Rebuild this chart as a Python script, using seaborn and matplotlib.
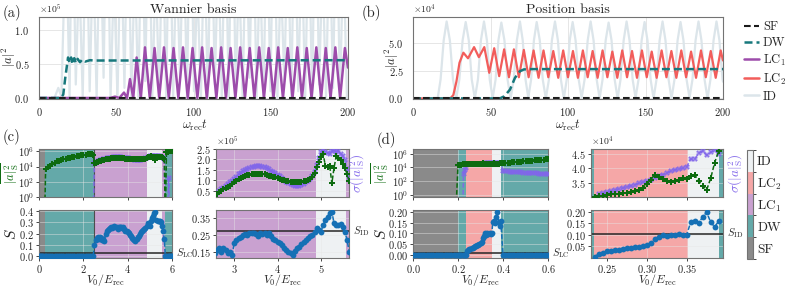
"""
Quench dynamics of |a|^2 in the Wannier and position basis (a, b) and the
phase diagnostics (mean / spread of |a|^2_S and entropy S) for two scans (c, d).
"""

import numpy as np
import matplotlib
matplotlib.use("Agg")
import matplotlib.pyplot as plt
import seaborn as sns
from matplotlib.colors import ListedColormap, BoundaryNorm
from matplotlib.cm import ScalarMappable
from matplotlib.lines import Line2D
from matplotlib.ticker import NullLocator

# ---------------------------------------------------------------------------
# Colours
# ---------------------------------------------------------------------------
COL = {"SF": "#1a1a1a", "DW": "#17787c", "LC1": "#9d4cab", "LC2": "#f25d5b", "ID": "#dce5ea"}
PHASE_FILL = {"SF": "#8a8a8a", "DW": "#64a9a9", "LC1": "#c9a1d0", "LC2": "#f5a7a7", "ID": "#eef1f3"}
GREEN = "#0d6b10"
PURPLE = "#8166ea"
BLUE = "#1570b5"
ZERO = 1e-3  # stands in for "0" on the log axes

# ---------------------------------------------------------------------------
# (a) Wannier basis, |a|^2 in units of 1e5
# ---------------------------------------------------------------------------
A_SF_T = [0, 200]
A_SF = [0, 0]

A_DW_T = [0, 14.0, 15.7, 17.0, 18.8, 19.8, 20.8, 21.8, 22.8, 23.8, 25.0, 26.5, 28.0, 30.0, 33.0, 36.0, 200]
A_DW = [0, 0, 0.05, 0.30, 0.60, 0.52, 0.60, 0.50, 0.59, 0.52, 0.58, 0.53, 0.57, 0.54, 0.56, 0.555, 0.56]

A_LC1_T_HI = [49.2, 55.0, 58.9, 63.2, 68.6, 74.8, 80.9, 87.1, 93.2, 99.4, 105.6, 111.7, 117.9,
              124.0, 130.2, 136.4, 142.5, 148.7, 154.8, 161.0, 167.2, 173.3, 179.5, 185.6, 191.8, 198.0]
A_LC1_HI = [0.02, 0.08, 0.28, 0.60, 0.75, 0.74, 0.75, 0.74, 0.75, 0.74, 0.75, 0.74, 0.75,
            0.74, 0.75, 0.74, 0.75, 0.74, 0.75, 0.74, 0.75, 0.74, 0.75, 0.74, 0.75, 0.74]
A_LC1_T_LO = [0, 46.0, 52.0, 57.0, 61.0, 65.9, 71.7, 77.8, 84.0, 90.2, 96.3, 102.5, 108.6, 114.8,
              121.0, 127.1, 133.3, 139.4, 145.6, 151.8, 157.9, 164.1, 170.2, 176.4, 182.6, 188.7, 194.9, 200.0]
A_LC1_LO = [0.0] * 27 + [0.45]

A_ID_T_HI = [12.5, 17.5, 21.5, 26.0, 30.5, 35.0, 39.5, 44.0, 48.5, 53.0, 57.5, 62.0, 66.5,
             71.0, 75.5, 80.0, 84.5, 89.0, 93.5, 98.0, 102.5, 107.0, 111.5, 116.0, 120.5, 125.0,
             129.5, 134.0, 138.5, 143.0, 147.5, 152.0, 156.5, 161.0, 165.5, 170.0, 174.5, 179.0,
             183.5, 188.0, 192.5, 197.0]
A_ID_HI = [0.15,
           2.6, 3.4, 1.9, 3.0, 2.2, 2.8, 3.5, 1.8, 2.5, 3.1,
           2.0, 2.9, 3.3, 1.9, 2.6, 3.2, 2.1, 2.7, 3.4, 1.7,
           2.4, 3.0, 2.2, 2.9, 3.5, 1.9, 2.6, 3.1, 2.0, 2.8,
           3.3, 1.8, 2.5, 3.0, 2.3, 2.7, 3.4, 2.0, 2.6, 3.1,
           2.2]
A_ID_T_LO = [0, 10.0, 14.5, 19.8, 23.8, 28.3, 32.8, 37.3, 41.8, 46.3, 50.8, 55.3, 59.8, 64.3,
             68.8, 73.3, 77.8, 82.3, 86.8, 91.3, 95.8, 100.3, 104.8, 109.3, 113.8, 118.3, 122.8,
             127.3, 131.8, 136.3, 140.8, 145.3, 149.8, 154.3, 158.8, 163.3, 167.8, 172.3, 176.8,
             181.3, 185.8, 190.3, 194.8, 199.3]
A_ID_LO = [0.0, 0.0, 0.02,
           0.0, 0.2, 0.0, 0.1, 0.0, 0.3, 0.0, 0.0, 0.15, 0.0,
           0.0, 0.25, 0.0, 0.1, 0.0, 0.0, 0.3, 0.0, 0.1, 0.0,
           0.0, 0.2, 0.0, 0.0, 0.15, 0.0, 0.3, 0.0, 0.0, 0.1,
           0.0, 0.25, 0.0, 0.1, 0.0, 0.0, 0.2, 0.0, 0.15, 0.0,
           0.0]

# ---------------------------------------------------------------------------
# (b) Position basis, |a|^2 in units of 1e4
# ---------------------------------------------------------------------------
B_SF_T = [0, 200]
B_SF = [0, 0]

B_DW_T = [0, 56.0, 59.0, 62.6, 65.8, 69.0, 71.5, 75.0, 200]
B_DW = [0, 0, 0.2, 0.8, 1.85, 2.44, 2.60, 2.63, 2.63]

B_LC2_T = [0, 24.0, 26.0, 28.0, 30.0, 32.5, 35.5, 39.4, 42.5, 46.0, 49.2, 52.4, 55.6, 58.8, 61.9,
           65.1, 68.3, 71.5, 74.6, 77.8, 81.0, 84.2, 87.3, 90.5, 93.7, 96.9, 100.0, 103.2, 106.4,
           109.6, 112.7, 115.9, 119.1, 122.3, 125.4, 128.6, 131.8, 135.0, 138.1, 141.3, 144.5,
           147.7, 150.8, 154.0, 157.2, 160.4, 163.5, 166.7, 169.9, 173.1, 176.2, 179.4, 182.6,
           185.8, 188.9, 192.1, 195.3, 198.5, 200.0]
B_LC2 = [0, 0, 0.3, 1.5, 3.2, 4.1, 3.6, 4.6, 3.7, 4.6, 2.3, 4.5, 2.0, 4.4, 1.9,
         4.4, 1.9, 4.35, 1.9, 4.3, 1.85, 4.3, 1.9, 4.25, 1.85, 4.3, 1.9, 4.25, 1.85,
         4.3, 1.9, 4.25, 1.85, 4.3, 1.9, 4.2, 1.85, 4.3, 1.9, 4.25, 1.85,
         4.3, 1.9, 4.2, 1.85, 4.3, 1.9, 4.25, 1.85, 4.3, 1.9, 4.2, 1.85,
         4.3, 1.9, 4.25, 1.85, 4.3, 3.4]

B_ID_T = [0, 15.9,
          17.8, 19.8, 21.7, 23.8, 25.8, 27.9,
          29.9, 32.0, 34.0, 36.0, 37.9, 39.9,
          41.9, 43.8, 45.8, 47.7, 49.5, 51.4,
          53.3, 55.1, 57.0, 59.0, 61.0, 63.0,
          65.0, 67.0, 69.0, 70.8, 72.6, 74.4,
          76.2, 78.0, 79.8, 81.8, 83.7, 85.7,
          87.7, 89.6, 91.6, 93.5, 95.4, 97.3,
          99.2, 101.1, 103.0, 104.9, 106.9, 108.8,
          110.7, 112.7, 114.6, 116.5, 118.5, 120.4,
          122.3, 124.3, 126.2, 128.1, 130.1, 132.0,
          133.9, 135.9, 137.8, 139.7, 141.7, 143.6,
          145.5, 147.5, 149.4, 151.3, 153.3, 155.2,
          157.1, 159.1, 161.0, 162.9, 164.9, 166.8,
          168.7, 170.7, 172.6, 174.5, 176.5, 178.4,
          180.3, 182.3, 184.2, 186.1, 188.1, 190.0,
          191.9, 193.9, 195.8, 197.7, 199.7, 200.0]
B_ID = [0, 0,
        1.7, 5.2, 6.9, 5.2, 1.7, 0.0,
        1.7, 5.2, 6.85, 5.2, 1.7, 0.0,
        1.7, 5.2, 6.9, 5.2, 1.7, 0.05,
        1.7, 5.2, 6.8, 5.2, 1.7, 0.0,
        1.7, 5.2, 6.9, 5.2, 1.7, 0.05,
        1.7, 5.2, 6.85, 5.2, 1.7, 0.0,
        1.7, 5.2, 6.9, 5.2, 1.7, 0.0,
        1.7, 5.2, 6.85, 5.2, 1.7, 0.05,
        1.7, 5.2, 6.9, 5.2, 1.7, 0.0,
        1.7, 5.2, 6.8, 5.2, 1.7, 0.0,
        1.7, 5.2, 6.9, 5.2, 1.7, 0.05,
        1.7, 5.2, 6.85, 5.2, 1.7, 0.0,
        1.7, 5.2, 6.9, 5.2, 1.7, 0.0,
        1.7, 5.2, 6.85, 5.2, 1.7, 0.05,
        1.7, 5.2, 6.9, 5.2, 1.7, 0.0,
        1.7, 5.2, 6.9, 5.2, 1.7, 1.5]

# ---------------------------------------------------------------------------
# (c) scan in the Wannier basis
# ---------------------------------------------------------------------------
C_PHASE_EDGES = [0.0, 0.27, 2.5, 4.88, 5.57, 5.68, 6.0]
C_PHASES = ["SF", "DW", "LC1", "ID", "LC1", "DW"]
C_S_LC = 0.025
C_S_ID = 0.276

C_V0_SF = [0.0, 0.05, 0.1, 0.15, 0.2, 0.25]
C_V0_DW1 = [0.3, 0.4, 0.5, 0.6, 0.7, 0.8, 0.9, 1.0, 1.1, 1.2, 1.3, 1.4, 1.5, 1.6, 1.7, 1.8,
            1.9, 2.0, 2.1, 2.2, 2.3, 2.4, 2.45]
C_MEAN_DW1 = [5.0e3, 8.9e3, 1.4e4, 2.2e4, 3.3e4, 4.8e4, 6.0e4, 7.6e4, 9.1e4, 1.12e5, 1.32e5,
              1.58e5, 1.82e5, 2.1e5, 2.5e5, 2.75e5, 3.0e5, 3.3e5, 3.6e5, 4.0e5, 4.6e5, 5.0e5, 3.5e5]

C_V0_LC = np.round(np.arange(2.5, 5.651, 0.05), 2)  # sampling grid 2.50 ... 5.65
C_MEAN_LC = [0.28, 0.31, 0.36, 0.43, 0.50, 0.57, 0.63, 0.68, 0.75, 0.82,
             0.90, 0.98, 1.06, 1.12, 1.17, 1.21, 1.24, 1.27, 1.29, 1.30,
             1.31, 1.31, 1.30, 1.29, 1.28, 1.26, 1.23, 1.20, 1.17, 1.14,
             1.11, 1.07, 1.03, 1.00, 0.97, 0.95, 0.93, 0.92, 0.91, 0.91,
             0.92, 0.93, 0.95, 0.97, 1.00, 1.06, 1.15, 1.35, 1.65, 1.90,
             2.10, 2.25, 1.70, 1.62, 1.70, 0.85, 1.60, 2.15, 2.05, 1.95,
             1.80, 1.60, 1.30, 0.95]  # x 1e5
C_SIG_LC = [0.30, 0.34, 0.40, 0.48, 0.56, 0.65, 0.73, 0.81, 0.90, 0.99,
            1.08, 1.18, 1.28, 1.36, 1.44, 1.51, 1.56, 1.60, 1.63, 1.66,
            1.68, 1.69, 1.68, 1.66, 1.63, 1.58, 1.52, 1.46, 1.40, 1.34,
            1.27, 1.19, 1.10, 1.02, 0.94, 0.87, 0.80, 0.76, 0.73, 0.73,
            0.75, 0.79, 0.84, 0.90, 0.97, 1.07, 1.20, 1.40, 1.75, 2.05,
            2.35, 2.45, 2.38, 2.30, 2.28, 2.40, 2.45, 2.35, 2.42, 2.25,
            2.15, 1.95, 1.55, 1.05]  # x 1e5
C_S_LC_VALS = [0.10, 0.14, 0.16, 0.17, 0.15, 0.17, 0.16, 0.14, 0.15, 0.13,
               0.20, 0.22, 0.23, 0.24, 0.25, 0.255, 0.25, 0.26, 0.265, 0.26,
               0.255, 0.245, 0.26, 0.255, 0.26, 0.25, 0.26, 0.245, 0.225, 0.22,
               0.21, 0.205, 0.19, 0.175, 0.16, 0.15, 0.14, 0.13, 0.155, 0.17,
               0.18, 0.195, 0.21, 0.22, 0.235, 0.245, 0.25, 0.27, 0.29, 0.28,
               0.27, 0.31, 0.34, 0.36, 0.385, 0.39, 0.32, 0.31, 0.31, 0.315,
               0.30, 0.27, 0.22, 0.15]

C_V0_DW2 = [5.7, 5.75, 5.8, 5.85, 5.9, 5.95, 6.0]
C_MEAN_DW2 = [ZERO, 8.0e5, 9.0e5, 1.0e6, 1.0e6, 1.05e6, 1.1e6]
C_SIG_DW2 = [ZERO, ZERO, ZERO, 3.0e2, ZERO, ZERO, ZERO]

# ---------------------------------------------------------------------------
# (d) scan in the position basis
# ---------------------------------------------------------------------------
D_PHASE_EDGES = [0.0, 0.2, 0.234, 0.352, 0.391, 0.6]
D_PHASES = ["SF", "DW", "LC2", "ID", "DW"]
D_S_LC = 0.008
D_S_ID = 0.105

D_V0_SF = np.round(np.arange(0.0, 0.191, 0.01), 2)
D_V0_DW1 = [0.2, 0.205, 0.21, 0.215, 0.22, 0.225, 0.23]
D_MEAN_DW1 = [2.5e4, 2.55e4, 2.6e4, 2.65e4, 2.7e4, 2.8e4, 2.9e4]
D_SIG_DW1 = [ZERO, ZERO, ZERO, ZERO, ZERO, 1.2e3, 4.0e3]

D_V0_LC = np.round(np.arange(0.235, 0.3901, 0.005), 3)  # sampling grid 0.235 ... 0.390
D_MEAN_LC = [3.00, 3.02, 3.05, 3.07, 3.09, 3.10, 3.12, 3.13, 3.14, 3.16,
             3.20, 3.25, 3.32, 3.45, 3.60, 3.78, 3.70, 3.62, 3.56, 3.52,
             3.55, 3.60, 3.66, 3.62, 3.72, 3.78, 3.55, 3.40, 3.25, 3.65,
             4.20, 4.60]  # x 1e4
D_SIG_LC = [0.80, 3.10, 3.13, 3.17, 3.20, 3.24, 3.28, 3.31, 3.35, 3.39,
            3.43, 3.47, 3.51, 3.55, 3.60, 3.66, 3.72, 3.78, 3.84, 3.90,
            3.95, 3.97, 4.00, 4.05, 4.32, 4.32, 4.52, 4.60, 4.45, 4.55,
            4.62, 4.48]  # x 1e4
D_S_LC_VALS = [0.0, 0.015, 0.02, 0.025, 0.027, 0.03, 0.032, 0.036, 0.04, 0.042,
               0.044, 0.046, 0.05, 0.055, 0.062, 0.08, 0.09, 0.10, 0.095, 0.10,
               0.098, 0.104, 0.098, 0.10, 0.155, 0.16, 0.15, 0.18, 0.20, 0.155,
               0.135, 0.16]

D_V0_DW2 = np.round(np.arange(0.40, 0.601, 0.01), 2)
D_MEAN_DW2 = [4.0e4, 4.3e4, 4.7e4, 5.0e4, 5.4e4, 5.8e4, 6.2e4, 6.6e4, 7.0e4, 7.5e4, 8.0e4,
              8.6e4, 9.2e4, 9.8e4, 1.05e5, 1.12e5, 1.2e5, 1.3e5, 1.4e5, 1.5e5, 1.6e5]
D_SIG_DW2 = [3.2e3, 2.9e3, 2.6e3, 2.4e3, 2.3e3, 2.2e3, 2.1e3, 2.0e3, 1.9e3, 1.8e3, 1.7e3,
             1.6e3, 1.5e3, 1.45e3, 1.4e3, 1.3e3, 1.25e3, 1.2e3, 1.15e3, 1.1e3, 1.05e3]

PHASE_ORDER = ["SF", "DW", "LC1", "LC2", "ID"]
PHASE_LABELS = ["SF", "DW", r"LC$_1$", r"LC$_2$", "ID"]

# ---------------------------------------------------------------------------
# Style
# ---------------------------------------------------------------------------
sns.set_style("whitegrid")
plt.rcParams.update({
    "font.family": "serif",
    "font.serif": ["cmr10", "DejaVu Serif"],
    "mathtext.fontset": "cm",
    "axes.formatter.use_mathtext": True,
    "axes.edgecolor": "0.45",
    "axes.linewidth": 0.8,
    "grid.color": "0.9",
    "grid.linewidth": 0.7,
    "font.size": 7.5,
    "xtick.labelsize": 7.5,
    "ytick.labelsize": 7.5,
})

W, H = 793, 289
fig = plt.figure(figsize=(W / 100, H / 100), dpi=100)


def add_ax(x0, y0, x1, y1):
    """Axes from pixel box (left, top, right, bottom)."""
    return fig.add_axes([x0 / W, 1 - y1 / H, (x1 - x0) / W, (y1 - y0) / H])


def fig_label(x, y, text, rot=0, **kw):
    """Text centred on a pixel position of the figure."""
    fig.text(x / W, 1 - y / H, text, rotation=rot, ha="center", va="center", **kw)


def merge(t_hi, v_hi, t_lo, v_lo):
    t = np.concatenate([t_hi, t_lo])
    v = np.concatenate([v_hi, v_lo])
    order = np.argsort(t, kind="stable")
    return t[order], v[order]


def line(ax, t, v, scale, color, ls, lw):
    sns.lineplot(x=np.asarray(t, float), y=np.asarray(v, float) * scale, ax=ax,
                 color=color, linestyle=ls, linewidth=lw, estimator=None, sort=False)


DASH = (0, (3.2, 1.6))

# ---------------------------------------------------------------------------
# (a) and (b)
# ---------------------------------------------------------------------------
ax_a = add_ax(39, 17, 348, 99)
t_id, v_id = merge(A_ID_T_HI, A_ID_HI, A_ID_T_LO, A_ID_LO)
line(ax_a, t_id, v_id, 1e5, COL["ID"], "-", 1.6)
t_lc, v_lc = merge(A_LC1_T_HI, A_LC1_HI, A_LC1_T_LO, A_LC1_LO)
line(ax_a, t_lc, v_lc, 1e5, COL["LC1"], "-", 1.8)
line(ax_a, A_DW_T, A_DW, 1e5, COL["DW"], DASH, 1.8)
line(ax_a, A_SF_T, A_SF, 1e5, COL["SF"], DASH, 1.5)
ax_a.set_ylim(-0.015e5, 1.2e5)
ax_a.set_yticks([0, 0.5e5, 1.0e5])
ax_a.set_title("Wannier basis", fontsize=10, pad=3)

ax_b = add_ax(413, 17, 723, 99)
line(ax_b, B_ID_T, B_ID, 1e4, COL["ID"], "-", 1.6)
line(ax_b, B_LC2_T, B_LC2, 1e4, COL["LC2"], "-", 1.6)
line(ax_b, B_DW_T, B_DW, 1e4, COL["DW"], DASH, 1.8)
line(ax_b, B_SF_T, B_SF, 1e4, COL["SF"], DASH, 1.5)
ax_b.set_ylim(-0.05e4, 7.3e4)
ax_b.set_yticks([0, 2.5e4, 5.0e4])
ax_b.set_title("Position basis", fontsize=10, pad=3)

for ax in (ax_a, ax_b):
    ax.set_xlim(0, 200)
    ax.set_xticks([0, 50, 100, 150, 200])
    ax.tick_params(axis="x", pad=1.5)
    ax.ticklabel_format(axis="y", style="sci", scilimits=(0, 0))
    ax.yaxis.get_offset_text().set_fontsize(7)
    ax.set_xlabel("")
    ax.set_ylabel("")

for x in (195, 568):
    fig_label(x, 125, r"$\omega_{\rm rec}t$", fontsize=9)
fig_label(9, 57, r"$|a|^2$", rot=90, fontsize=9)
fig_label(392, 58, r"$|a|^2$", rot=90, fontsize=9)

handles = [Line2D([], [], color=COL["SF"], ls=DASH, lw=1.5),
           Line2D([], [], color=COL["DW"], ls=DASH, lw=1.8),
           Line2D([], [], color=COL["LC1"], ls="-", lw=1.8),
           Line2D([], [], color=COL["LC2"], ls="-", lw=1.8),
           Line2D([], [], color=COL["ID"], ls="-", lw=1.8)]
fig.legend(handles, PHASE_LABELS, loc="upper left", bbox_to_anchor=(739 / W, 1 - 16 / H),
           frameon=False, fontsize=9, handlelength=1.2, handletextpad=0.3, labelspacing=0.3,
           borderaxespad=0)

# ---------------------------------------------------------------------------
# (c) and (d)
# ---------------------------------------------------------------------------


def shade(ax, edges, phases):
    for lo, hi, ph in zip(edges[:-1], edges[1:], phases):
        ax.axvspan(lo, hi, color=PHASE_FILL[ph], lw=0, zorder=0)
    ax.grid(alpha=0.45)


def series(ax, x, y, color, marker, ms, alpha=1.0):
    ax.plot(x, y, ls=(0, (3, 1.5)), lw=1.1, color=color, marker=marker, ms=ms,
            mew=0, alpha=alpha, zorder=3)


def scan_block(x0, x1, xr0, xr1, edges, phases, v0_all, s_all, v0_ms, mean_all, sig_all,
               v0_lc, mean_lc, sig_lc, s_lc, scale, s_line_l, s_line_r, lims):
    axs = {}
    axs["lt"] = add_ax(x0, 149, x1, 197)
    axs["lb"] = add_ax(x0, 210, x1, 258)
    axs["rt"] = add_ax(xr0, 149, xr1, 197)
    axs["rb"] = add_ax(xr0, 210, xr1, 258)
    for ax in axs.values():
        shade(ax, edges, phases)
        ax.tick_params(length=2.5, width=0.6, bottom=True, left=True, pad=1.2)

    # left: full scan
    ax = axs["lt"]
    series(ax, v0_ms, sig_all, PURPLE, "X", 4.2, 0.9)
    series(ax, v0_ms, mean_all, GREEN, "P", 4.2)
    ax.set_yscale("log")
    ax.set_ylim(*lims["lt"])
    ax.set_yticks([1, 1e2, 1e4, 1e6])
    ax.yaxis.set_minor_locator(NullLocator())

    ax = axs["lb"]
    ax.axhline(s_line_l, color="0.15", lw=1.1, zorder=2)
    series(ax, v0_all, s_all, BLUE, "o", 4.2)
    ax.set_ylim(*lims["lb"])
    ax.text(1.03, s_line_l, r"$S_{\rm LC}$", transform=ax.get_yaxis_transform(),
            ha="left", va="center", fontsize=7.5)

    # right: zoom on the crystalline / ID window
    ax = axs["rt"]
    series(ax, v0_lc, np.asarray(sig_lc) * scale, PURPLE, "X", 4.2, 0.9)
    series(ax, v0_lc, np.asarray(mean_lc) * scale, GREEN, "P", 4.2)
    ax.set_ylim(*lims["rt"])
    ax.set_yticks(lims["rt_ticks"])
    ax.ticklabel_format(axis="y", style="sci", scilimits=(0, 0))
    ax.yaxis.get_offset_text().set_fontsize(7)

    ax = axs["rb"]
    ax.axhline(s_line_r, color="0.15", lw=1.1, zorder=2)
    series(ax, v0_lc, s_lc, BLUE, "o", 4.2)
    ax.set_ylim(*lims["rb"])
    ax.set_yticks(lims["rb_ticks"])
    ax.text(1.03, s_line_r, r"$S_{\rm ID}$", transform=ax.get_yaxis_transform(),
            ha="left", va="center", fontsize=7.5)

    for key in ("lt", "lb"):
        axs[key].set_xlim(lims["xl"])
        axs[key].set_xticks(lims["xl_ticks"])
    for key in ("rt", "rb"):
        axs[key].set_xlim(lims["xr"])
        axs[key].set_xticks(lims["xr_ticks"])
    for key in ("lt", "rt"):
        axs[key].tick_params(labelbottom=False)

    # axis titles placed by pixel, as in the reference
    fig_label(lims["ylab_x"], 173, r"$\overline{|a|^2_{\rm S}}$", rot=90, color=GREEN, fontsize=9)
    fig_label(lims["ylab_x"] + 1, 234, r"$S$", rot=90, fontsize=11)
    fig_label(lims["sig_x"], 173, r"$\sigma(|a|^2_{\rm S})$", rot=90, color=PURPLE, fontsize=9.5)
    fig_label((x0 + x1) / 2, 280.5, r"$V_0/E_{\rm rec}$", fontsize=8.5)
    fig_label((xr0 + xr1) / 2, 280.5, r"$V_0/E_{\rm rec}$", fontsize=8.5)
    return axs


# (c)
c_v0_all = np.concatenate([C_V0_SF, C_V0_DW1, C_V0_LC, C_V0_DW2])
c_s_all = np.concatenate([np.zeros(len(C_V0_SF) + len(C_V0_DW1)), C_S_LC_VALS,
                          np.zeros(len(C_V0_DW2))])
c_v0_ms = np.concatenate([C_V0_SF[-1:], C_V0_DW1, C_V0_LC, C_V0_DW2])
c_mean = np.concatenate([[ZERO], C_MEAN_DW1, np.asarray(C_MEAN_LC) * 1e5, C_MEAN_DW2])
c_sig = np.concatenate([[ZERO], np.full(len(C_V0_DW1), ZERO), np.asarray(C_SIG_LC) * 1e5, C_SIG_DW2])
axs_c = scan_block(39, 172, 216, 349, C_PHASE_EDGES, C_PHASES, c_v0_all, c_s_all, c_v0_ms,
                   c_mean, c_sig, C_V0_LC, C_MEAN_LC, C_SIG_LC, C_S_LC_VALS, 1e5, C_S_LC, C_S_ID,
                   {"lt": (1, 2.1e6), "lb": (-0.018, 0.41), "rt": (0.2e5, 2.45e5),
                    "rt_ticks": [0.5e5, 1.0e5, 1.5e5, 2.0e5, 2.5e5],
                    "rb": (0.112, 0.40), "rb_ticks": [0.15, 0.25, 0.35],
                    "xl": (0, 6), "xl_ticks": [0, 2, 4, 6],
                    "xr": (2.58, 5.645), "xr_ticks": [3, 4, 5],
                    "ylab_x": 10, "sig_x": 358})
axs_c["lb"].set_yticks([0, 0.1, 0.2, 0.3, 0.4])
for key in ("lt", "lb"):
    axs_c[key].axvline(C_PHASE_EDGES[2], color="0.3", lw=0.8, zorder=1.5)

# (d)
d_v0_all = np.concatenate([D_V0_SF, D_V0_DW1, D_V0_LC, D_V0_DW2])
d_s_all = np.concatenate([np.zeros(len(D_V0_SF) + len(D_V0_DW1)), D_S_LC_VALS,
                          np.zeros(len(D_V0_DW2))])
d_v0_ms = np.concatenate([D_V0_SF[-1:], D_V0_DW1, D_V0_LC, D_V0_DW2])
d_mean = np.concatenate([[ZERO], D_MEAN_DW1, np.asarray(D_MEAN_LC) * 1e4, D_MEAN_DW2])
d_sig = np.concatenate([[ZERO], D_SIG_DW1, np.asarray(D_SIG_LC) * 1e4, D_SIG_DW2])
axs_d = scan_block(413, 548, 591, 723, D_PHASE_EDGES, D_PHASES, d_v0_all, d_s_all, d_v0_ms,
                   d_mean, d_sig, D_V0_LC, D_MEAN_LC, D_SIG_LC, D_S_LC_VALS, 1e4, D_S_LC, D_S_ID,
                   {"lt": (0.47, 5e6), "lb": (-0.016, 0.211), "rt": (3.0e4, 4.67e4),
                    "rt_ticks": [3.5e4, 4.0e4, 4.5e4],
                    "rb": (-0.004, 0.21), "rb_ticks": [0.05, 0.10, 0.15, 0.20],
                    "xl": (0, 0.6), "xl_ticks": [0.0, 0.2, 0.4, 0.6],
                    "xr": (0.2304, 0.3954), "xr_ticks": [0.25, 0.30, 0.35],
                    "ylab_x": 380, "sig_x": 736})
axs_d["lb"].set_yticks([0, 0.05, 0.1, 0.15, 0.2])

# phase colour key
ax_cb = add_ax(747, 150, 753, 259)
cmap = ListedColormap([PHASE_FILL[p] for p in PHASE_ORDER])
norm = BoundaryNorm(np.arange(len(PHASE_ORDER) + 1), cmap.N)
cb = fig.colorbar(ScalarMappable(norm=norm, cmap=cmap), cax=ax_cb,
                  ticks=np.arange(len(PHASE_ORDER)) + 0.5)
cb.set_ticklabels(PHASE_LABELS)
cb.ax.tick_params(length=0, labelsize=9.5, pad=3)
cb.outline.set_edgecolor("0.45")
cb.outline.set_linewidth(0.8)

# panel letters
for label, x, y in [("(a)", 12, 13), ("(b)", 371, 13), ("(c)", 12, 137), ("(d)", 386, 140)]:
    fig_label(x, y, label, fontsize=10.5)

fig.savefig("out.png", dpi=100)
